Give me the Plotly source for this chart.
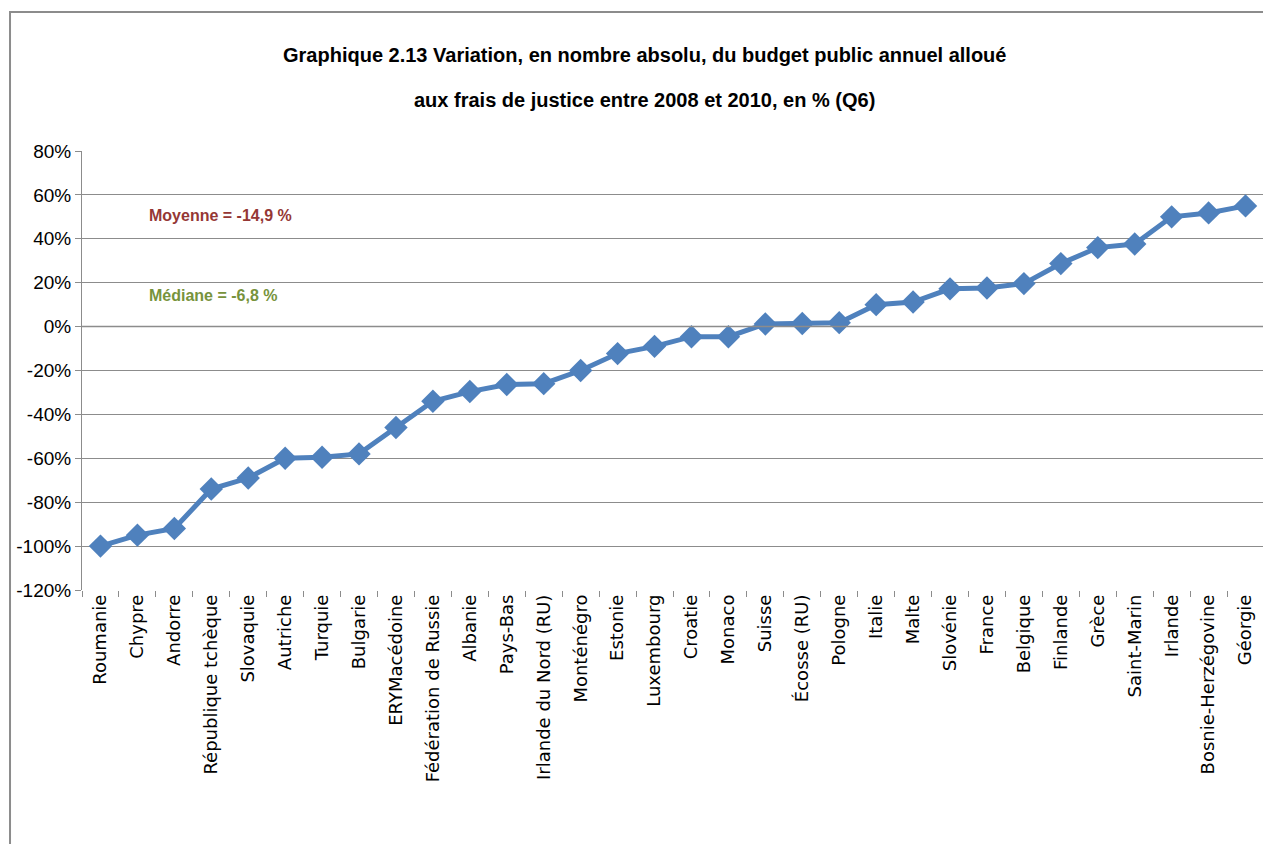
import plotly.graph_objects as go

countries = ["Roumanie", "Chypre", "Andorre", "République tchèque", "Slovaquie", "Autriche",
             "Turquie", "Bulgarie", "ERYMacédoine", "Fédération de Russie", "Albanie", "Pays-Bas",
             "Irlande du Nord (RU)", "Monténégro", "Estonie", "Luxembourg", "Croatie", "Monaco",
             "Suisse", "Écosse (RU)", "Pologne", "Italie", "Malte", "Slovénie", "France",
             "Belgique", "Finlande", "Grèce", "Saint-Marin", "Irlande", "Bosnie-Herzégovine", "Géorgie"]
values = [-100, -95, -92, -74, -69, -60, -59.5, -58, -46, -34, -29.6, -26.4,
          -26, -20, -12.3, -9, -4.6, -4.6, 1.2, 1.4, 1.8, 10, 11.2, 17.2, 17.6,
          19.6, 28.7, 36, 37.6, 50, 51.8, 55]
y_ticks = [80, 60, 40, 20, 0, -20, -40, -60, -80, -100, -120]
title_lines = ["Graphique 2.13 Variation, en nombre absolu, du budget public annuel alloué",
               "aux frais de justice entre 2008 et 2010, en % (Q6)"]

NARROW = "Liberation Sans Narrow, Arial Narrow, Liberation Sans, sans-serif"

fig = go.Figure()
fig.add_trace(go.Scatter(
    x=countries, y=values, mode="lines+markers",
    line=dict(color="#4F81BD", width=5),
    marker=dict(symbol="diamond", size=18, color="#4F81BD"),
    showlegend=False, cliponaxis=False,
))

annotations = [
    dict(text=f"<b>{title_lines[0]}</b>", x=0.476, xref="paper", y=1.2187, yref="paper",
         xanchor="center", yanchor="middle", showarrow=False,
         font=dict(family=NARROW, size=20, color="#000000")),
    dict(text=f"<b>{title_lines[1]}</b>", x=0.476, xref="paper", y=1.116, yref="paper",
         xanchor="center", yanchor="middle", showarrow=False,
         font=dict(family=NARROW, size=20, color="#000000")),
    dict(text="<b>Moyenne = -14,9 %</b>", x=0.055, xref="paper", y=50.6, yref="y",
         xanchor="left", yanchor="middle", showarrow=False,
         font=dict(family=NARROW, size=16, color="#953735")),
    dict(text="<b>Médiane = -6,8 %</b>", x=0.055, xref="paper", y=14.1, yref="y",
         xanchor="left", yanchor="middle", showarrow=False,
         font=dict(family=NARROW, size=16, color="#77933C")),
]

fig.update_layout(
    width=1271, height=844,
    margin=dict(l=74, r=15, t=143, b=262, autoexpand=False),
    paper_bgcolor="white", plot_bgcolor="white",
    xaxis=dict(
        type="category", showgrid=False, ticks="outside", tickson="boundaries",
        ticklen=6, tickcolor="#8C8C8C", showline=False, tickangle=-90,
        tickfont=dict(family="DejaVu Sans, sans-serif", size=18, color="#000000"),
        range=[-0.5, len(countries) - 0.5], automargin=False,
    ),
    yaxis=dict(
        range=[-120, 80], tickvals=y_ticks, ticktext=[f"{v}%" for v in y_ticks],
        showgrid=True, gridcolor="#8C8C8C", gridwidth=1,
        showline=True, linecolor="#8C8C8C", linewidth=1,
        ticks="outside", ticklen=6, tickcolor="#8C8C8C",
        zeroline=False, automargin=False,
        tickfont=dict(family=NARROW, size=19, color="#000000"),
    ),
    annotations=annotations,
    shapes=[
        dict(type="line", xref="paper", yref="y", x0=0, x1=1, y0=0, y1=0,
             line=dict(color="#8C8C8C", width=1.5)),
        dict(type="rect", xref="paper", yref="paper", x0=-0.0609, x1=1.03, y0=-0.62, y1=1.3166,
             line=dict(color="#8C8C8C", width=2), layer="below"),
    ],
)

fig.write_html("out.html")
